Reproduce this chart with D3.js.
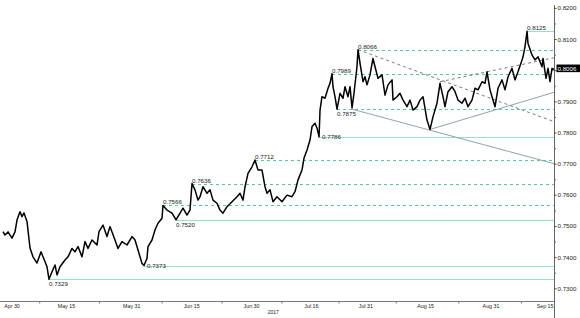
<!DOCTYPE html>
<html>
<head>
<meta charset="utf-8">
<script src="https://cdn.jsdelivr.net/npm/d3@7"></script>
<style>
  body { margin: 0; background: #fff; }
  svg { display: block; font-family: "Liberation Sans", Arial, sans-serif; }
</style>
</head>
<body>
<svg id="chart" width="580" height="318"></svg>
<script>
// time is counted in trading days since Mon 1 May 2017 (weekends skipped)
const days = [
  -1.65, -1.29, -0.73, 0, 0.55, 0.92, 1.47, 1.84, 2.2, 2.76, 3.31, 3.86, 4.59, 5.33, 5.7, 6.43, 6.8,
  7.35, 7.9, 8.27, 8.82, 9.74, 10.29, 11.02, 11.57, 12.13, 12.86, 13.41, 13.96, 14.7, 15.62, 15.98,
  16.72, 17.45, 18.0, 18.92, 19.47, 20.21, 21.13, 22.05, 22.6, 23.15, 23.88, 24.25, 24.8, 24.99,
  25.72, 26.27, 26.82, 27.56, 27.74, 28.48, 29.4, 30.13, 30.87, 31.42, 32.15, 32.7, 33.07, 33.62,
  34.17, 34.54, 35.09, 35.83, 36.38, 36.93, 37.66, 38.21, 38.76, 39.5, 40.42, 41.34, 41.89, 42.44,
  42.81, 43.36, 44.09, 44.64, 45.19, 45.92, 46.48, 46.85, 47.4, 47.95, 48.68, 49.6, 50.52, 51.44,
  51.99, 52.55, 53.28, 53.65, 54.2, 54.75, 55.12, 55.67, 56.04, 56.41, 56.59, 56.95, 57.5, 58.06,
  58.42, 58.79, 58.97, 59.34, 59.71, 60.26, 60.81, 61.18, 61.73, 62.1, 62.47, 62.83, 63.38, 63.57,
  63.94, 64.49, 64.85, 65.22, 65.77, 66.32, 66.69, 67.24, 67.98, 68.53, 69.08, 69.82, 70.0, 70.73,
  71.28, 71.84, 72.57, 73.12, 73.67, 74.41, 74.96, 75.51, 76.24, 76.8, 77.35, 78.08, 78.63, 79.18,
  79.55, 80.1, 80.84, 81.39, 81.94, 82.68, 83.23, 83.78, 84.51, 85.06, 85.62, 86.35, 86.9, 87.27,
  87.82, 88.19, 88.74, 89.29, 90.02, 90.57, 91.13, 91.86, 92.41, 92.96, 93.7, 93.88, 94.25, 94.62,
  94.8, 95.53, 96.09, 96.64, 97.37, 97.56, 98.11, 98.48, 98.84, 99.21, 99.39, 99.55
];
const prices = [
  0.7482, 0.7471, 0.7481, 0.7461, 0.7481, 0.7519, 0.7546, 0.7530, 0.7542, 0.7514, 0.7429, 0.7401, 0.7381, 0.7417, 0.7401, 0.7369, 0.7329,
  0.7353, 0.7375, 0.7343, 0.7369, 0.7391, 0.7401, 0.7428, 0.7417, 0.7434, 0.7401, 0.7450, 0.7428, 0.7455, 0.7439, 0.7482,
  0.7503, 0.7466, 0.7498, 0.7455, 0.7428, 0.7450, 0.7439, 0.7466, 0.7455, 0.7423, 0.7380, 0.7373, 0.7396, 0.7434,
  0.7455, 0.7487, 0.7509, 0.7525, 0.7566, 0.7551, 0.7541, 0.7520, 0.7541, 0.7557, 0.7535, 0.7551, 0.7636, 0.7616,
  0.7583, 0.7594, 0.7626, 0.7605, 0.7616, 0.7583, 0.7573, 0.7551, 0.7541, 0.7562, 0.7578, 0.7594, 0.7605, 0.7583,
  0.7626, 0.7669, 0.7690, 0.7712, 0.7680, 0.7680, 0.7626, 0.7605, 0.7616, 0.7578, 0.7594, 0.7578, 0.7599, 0.7594,
  0.7610, 0.7648, 0.7680, 0.7718, 0.7744, 0.7776, 0.7819, 0.7830, 0.7814, 0.7786, 0.7872, 0.7915, 0.7910, 0.7942,
  0.7958, 0.7989, 0.7947, 0.7915, 0.7875, 0.7926, 0.7910, 0.7947, 0.7915, 0.7947, 0.7879, 0.7926, 0.8011, 0.8066,
  0.8022, 0.7963, 0.7979, 0.7953, 0.7985, 0.8038, 0.8011, 0.7974, 0.7985, 0.7920, 0.7953, 0.7969, 0.7904, 0.7915,
  0.7926, 0.7904, 0.7883, 0.7904, 0.7872, 0.7883, 0.7904, 0.7915, 0.7840, 0.7810, 0.7851, 0.7894, 0.7958, 0.7915,
  0.7883, 0.7931, 0.7947, 0.7931, 0.7904, 0.7894, 0.7910, 0.7883, 0.7904, 0.7942, 0.7937, 0.7963, 0.7958, 0.7995,
  0.7937, 0.7915, 0.7883, 0.7942, 0.7969, 0.7937, 0.7979, 0.8006, 0.7969, 0.7995, 0.8033, 0.8043, 0.8076, 0.8125,
  0.8086, 0.8049, 0.8033, 0.8043, 0.8011, 0.8038, 0.7974, 0.8006, 0.7963, 0.8006, 0.8001, 0.8006
];

// marked highs / lows, drawn from the bar that made them to the right edge
const levels = [0.8125, 0.8066, 0.7989, 0.7875, 0.7786, 0.7712, 0.7636, 0.7566, 0.7520, 0.7373, 0.7329];
const dashedLevels = [0.8066, 0.7989, 0.7875, 0.7712, 0.7636, 0.7566];

// trend lines as [day, price] pairs
const trendSolid = [
  [[62.47, 0.7875], [99.58, 0.7700]],
  [[76.8, 0.7810], [99.58, 0.7929]]
];
const trendDashed = [
  [[63.57, 0.8066], [99.58, 0.7835]],
  [[78.63, 0.7963], [99.58, 0.8040]]
];

const tickDates = ["2017-04-30", "2017-05-15", "2017-05-31", "2017-06-15", "2017-06-30",
  "2017-07-16", "2017-07-31", "2017-08-15", "2017-08-31", "2017-09-15"];
const tickLabels = ["Apr 30", "May 15", "May 31", "Jun 15", "Jun 30", "Jul 16", "Jul 31", "Aug 15", "Aug 31", "Sep 15"];
const yTicks = [0.73, 0.74, 0.75, 0.76, 0.77, 0.78, 0.79, 0.80, 0.81, 0.82];
const lastPrice = 0.8006;

// weekend dates fall on the following Monday
function tradingDay(s) {
  const DAY = 864e5;
  let d = new Date(s + "T00:00:00Z");
  while (d.getUTCDay() === 0 || d.getUTCDay() === 6) d = new Date(d.getTime() + DAY);
  let n = 0;
  for (let c = new Date("2017-05-01T00:00:00Z"); c < d; c = new Date(c.getTime() + DAY)) {
    if (c.getUTCDay() % 6 !== 0) n++;
  }
  return n;
}

const svg = d3.select("#chart");
const axisX = 554.5, axisY = 301.5;

const x = d3.scaleLinear().domain([0, 88]).range([12, 491]);
const y = d3.scaleLinear().domain([0.73, 0.82]).range([288.3, 7.9]);
const crisp = v => Math.round(v) + 0.5;

svg.append("defs").append("clipPath").attr("id", "plot")
  .append("rect").attr("x", 0).attr("y", 0).attr("width", axisX).attr("height", axisY);

const plot = svg.append("g").attr("clip-path", "url(#plot)");

const levelStart = v => {
  const i = prices.findIndex(p => Math.abs(p - v) < 1e-6);
  return days[i];
};

// level lines
const labelSide = { 0.7875: "below", 0.7520: "below", 0.7329: "below", 0.7786: "right", 0.7373: "right" };
levels.forEach(v => {
  const dashed = dashedLevels.includes(v);
  const x0 = x(levelStart(v));
  plot.append("line")
    .attr("x1", x0).attr("x2", axisX)
    .attr("y1", crisp(y(v))).attr("y2", crisp(y(v)))
    .attr("stroke", dashed ? "#57c99e" : "#9adfc4")
    .attr("stroke-width", 1)
    .attr("shape-rendering", "crispEdges")
    .attr("stroke-dasharray", dashed ? "3,3" : null);
});

// trend lines
const tl = d3.line().x(d => x(d[0])).y(d => y(d[1]));
trendSolid.forEach(t => {
  plot.append("path").attr("d", tl(t)).attr("fill", "none")
    .attr("stroke", "#8fa3ad").attr("stroke-width", 1);
});
trendDashed.forEach(t => {
  plot.append("path").attr("d", tl(t)).attr("fill", "none")
    .attr("stroke", "#7a7a7a").attr("stroke-width", 1).attr("stroke-dasharray", "3,3");
});

// price
const line = d3.line().x((d, i) => x(days[i])).y(d => y(d));
plot.append("path")
  .datum(prices)
  .attr("d", line)
  .attr("fill", "none")
  .attr("stroke", "#000")
  .attr("stroke-width", 1.5)
  .attr("stroke-linejoin", "round");

// level labels
levels.forEach(v => {
  const side = labelSide[v] || "above";
  const x0 = x(levelStart(v));
  svg.append("text")
    .attr("x", side === "right" ? x0 + 3 : x0)
    .attr("y", side === "below" ? y(v) + 7 : side === "right" ? y(v) + 2 : y(v) - 1)
    .attr("font-size", 6.2)
    .attr("fill", "#222")
    .text(v.toFixed(4));
});

// y axis
svg.append("line")
  .attr("x1", axisX).attr("x2", axisX).attr("y1", 5).attr("y2", 318)
  .attr("stroke", "#666").attr("stroke-width", 1);

// the 0.8000 label sits under the last price tag
const yAxis = svg.append("g")
  .attr("transform", `translate(${axisX},0)`)
  .call(d3.axisRight(y).tickValues(yTicks)
    .tickFormat(v => Math.abs(v - 0.80) < 1e-9 ? "" : d3.format(".4f")(v))
    .tickSize(2).tickPadding(1));
yAxis.select(".domain").remove();
yAxis.selectAll("line").attr("stroke", "#444");
yAxis.selectAll("text").attr("font-size", 6.2).attr("fill", "#222")
  .attr("font-family", "Liberation Sans, Arial, sans-serif");

const yMinor = svg.append("g")
  .attr("transform", `translate(${axisX},0)`)
  .call(d3.axisRight(y).tickValues(yTicks.slice(0, -1).map(v => v + 0.005)).tickFormat("").tickSize(1.5));
yMinor.select(".domain").remove();
yMinor.selectAll("line").attr("stroke", "#666");

// last price tag
svg.append("rect")
  .attr("x", axisX + 2).attr("y", y(lastPrice) - 3.8)
  .attr("width", 580 - axisX - 2).attr("height", 7.6)
  .attr("fill", "#000");
svg.append("text")
  .attr("x", axisX + 3).attr("y", y(lastPrice) + 2.2)
  .attr("font-size", 6.2).attr("fill", "#fff")
  .text(lastPrice.toFixed(4));

// x axis
svg.append("line")
  .attr("x1", 0).attr("x2", axisX).attr("y1", axisY).attr("y2", axisY)
  .attr("stroke", "#777").attr("stroke-width", 1);

const tickIdx = tickDates.map(tradingDay);
const minorTicks = tickIdx.slice(1).map((d, i) => (d + tickIdx[i]) / 2);
const xAxis = svg.append("g")
  .attr("transform", `translate(0,${axisY})`)
  .call(d3.axisBottom(x).tickValues(minorTicks).tickFormat("").tickSize(2));
xAxis.select(".domain").remove();
xAxis.selectAll("line").attr("stroke", "#777");

tickIdx.forEach((d, i) => {
  const last = i === tickIdx.length - 1;
  svg.append("text")
    .attr("x", last ? axisX - 1 : x(d))
    .attr("y", axisY + 6.5)
    .attr("text-anchor", last ? "end" : "middle")
    .attr("font-size", 5.3)
    .attr("fill", "#222")
    .text(tickLabels[i]);
});

svg.append("text")
  .attr("x", x(tradingDay("2017-07-06")))
  .attr("y", 314)
  .attr("text-anchor", "middle")
  .attr("font-size", 5)
  .attr("fill", "#222")
  .text("2017");
</script>
</body>
</html>
